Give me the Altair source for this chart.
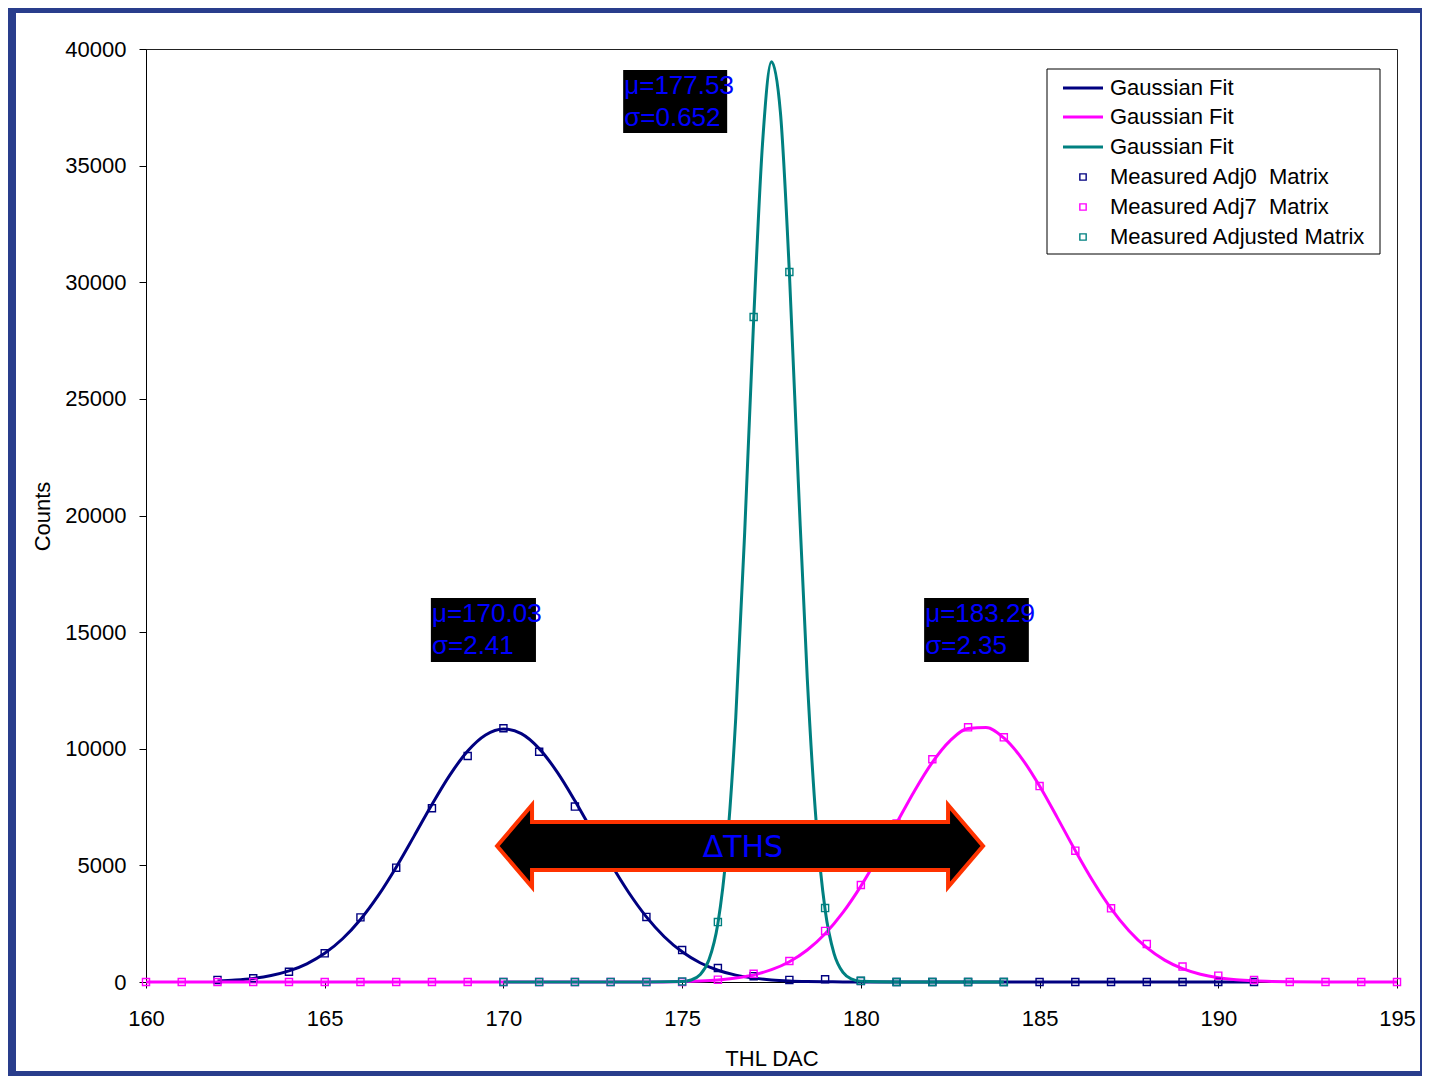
import altair as alt
import pandas as pd

# ---------------- data ----------------
x_ticks = [160, 165, 170, 175, 180, 185, 190, 195]
y_ticks = [0, 5000, 10000, 15000, 20000, 25000, 30000, 35000, 40000]

series_labels = ["Gaussian Fit", "Gaussian Fit", "Gaussian Fit",
                 "Measured Adj0\u00a0 Matrix", "Measured Adj7\u00a0 Matrix", "Measured Adjusted Matrix"]

# measured points (Adj0, navy)
meas0_x = list(range(162, 192))
meas0_y = [90, 160, 440, 1230, 2770, 4900, 7450, 9690, 10880, 9870, 7520, 5100, 2790, 1370,
           600, 250, 90, 115, 40, 0, 0, 0, 0, 0, 0, 0, 0, 0, 0, 0]
# measured points (Adj7, magenta)
meas7_x = list(range(160, 196))
meas7_y = [0, 0, 0, 0, 0, 0, 0, 0, 0, 0, 0, 0, 0, 0, 0, 0,
           100, 350, 900, 2190, 4160, 6800, 9550, 10920, 10490, 8400, 5630, 3160, 1630, 660,
           270, 90, 0, 0, 0, 0]
# measured points (Adjusted, teal)
measA_x = list(range(170, 185))
measA_y = [0, 0, 0, 0, 0, 20, 2570, 28510, 30440, 3170, 50, 0, 0, 0, 0]

# fitted curves
fit0_x = [162, 162.5, 163, 163.5, 164, 164.5, 165, 165.5, 166, 166.5, 167, 167.5, 168, 168.5,
          169, 169.5, 170, 170.5, 171, 171.5, 172, 172.5, 173, 173.5, 174, 174.5, 175, 175.5,
          176, 176.5, 177, 177.5, 178, 178.5, 179, 179.5, 180,
          181, 182, 183, 184, 185, 186, 187, 188, 189, 190, 191]
fit0_y = [42, 82, 154, 276, 474, 780, 1229, 1854, 2681, 3712, 4923, 6254, 7609, 8870,
          9903, 10591, 10850, 10646, 10006, 9009, 7769, 6418, 5077, 3848, 2794, 1942, 1295, 826,
          505, 295, 166, 89, 46, 23, 11, 5, 3,
          0, 0, 0, 0, 0, 0, 0, 0, 0, 0, 0]

fit7_x = [160, 161, 162, 163, 164, 165, 166, 167, 168, 169, 170, 171, 172, 173, 174,
          175, 175.5, 176, 176.5, 177, 177.5, 178, 178.5, 179, 179.5, 180, 180.5, 181, 181.5,
          182, 182.5, 183, 183.5, 184, 184.5, 185, 185.5, 186, 186.5, 187, 187.5, 188, 188.5,
          189, 189.5, 190, 190.5, 191, 191.5, 192, 193, 194, 195]
fit7_y = [0, 0, 0, 0, 0, 0, 0, 0, 0, 0, 0, 0, 0, 0, 0,
          22, 45, 89, 169, 305, 527, 869, 1372, 2070, 2984, 4110, 5412, 6811, 8193,
          9418, 10349, 10867, 10906, 10462, 9590, 8403, 7037, 5632, 4308, 3149, 2201, 1470, 937,
          572, 334, 186, 99, 50, 24, 11, 0, 0, 0]

fitA_x = [170, 171, 172, 173, 174,
          175, 175.25, 175.5, 175.75, 176, 176.25, 176.5, 176.75, 177, 177.25, 177.5,
          177.75, 178, 178.25, 178.5, 178.75, 179, 179.25, 179.5, 179.75, 180,
          181, 182, 183, 184]
fitA_y = [0, 0, 0, 0, 0,
          21, 87, 310, 950, 2510, 5740, 11330, 19290, 28350, 35970, 39450,
          37270, 30420, 21440, 13040, 6850, 3100, 1220, 410, 120, 30,
          0, 0, 0, 0]

# fit-parameter annotations
ann_text = ["\u03bc=170.03", "\u03c3=2.41", "\u03bc=177.53", "\u03c3=0.652", "\u03bc=183.29", "\u03c3=2.35"]
arrow_label = "\u0394THS"

colors = ["#000080", "#FF00FF", "#008080"]

# ---------------- layout ----------------
W, H = 1251, 933
PAD = {"left": 138, "top": 41, "right": 25, "bottom": 94}

x_scale = alt.Scale(domain=[160, 195], nice=False, zero=False)
y_scale = alt.Scale(domain=[0, 40000], nice=False)

x_axis = alt.Axis(values=x_ticks, title="THL DAC", grid=False, tickSize=6, labelPadding=20,
                  labelFlush=False, titleY=76, titleBaseline="middle")
y_axis = alt.Axis(values=y_ticks, format="d", title="Counts", grid=False, tickSize=7,
                  labelPadding=13, labelFlush=False, titleX=-104, titleY=467,
                  titleBaseline="middle", titleAlign="center")

X = lambda f: alt.X(f, scale=x_scale, axis=x_axis)
Y = lambda f: alt.Y(f, scale=y_scale, axis=y_axis)

one = alt.Data(values=[{"k": 1}])

# outer blue frame
frame = alt.Chart(one).mark_rect(fillOpacity=0, stroke="#293d8c", strokeWidth=10).encode(
    x=alt.value(-135), x2=alt.value(1279), y=alt.value(-41), y2=alt.value(1027))


def fit_layer(xs, ys, col):
    df = pd.DataFrame({"x": xs, "y": ys})
    return alt.Chart(df).mark_line(color=col, strokeWidth=3, interpolate="monotone").encode(
        x=X("x:Q"), y=Y("y:Q"))


def meas_layer(xs, ys, col):
    df = pd.DataFrame({"x": xs, "y": ys})
    return alt.Chart(df).mark_point(shape="square", filled=False, size=50, strokeWidth=1.4,
                                    color=col, opacity=1).encode(x=X("x:Q"), y=Y("y:Q"))


lines = [fit_layer(fit0_x, fit0_y, colors[0]),
         fit_layer(fit7_x, fit7_y, colors[1]),
         fit_layer(fitA_x, fitA_y, colors[2])]
points = [meas_layer(meas0_x, meas0_y, colors[0]),
          meas_layer(meas7_x, meas7_y, colors[1]),
          meas_layer(measA_x, measA_y, colors[2])]

# double arrow
arrow_path = ("M-1,0L-0.856,-0.169L-0.856,-0.099L0.856,-0.099L0.856,-0.169L1,0"
              "L0.856,0.169L0.856,0.099L-0.856,0.099L-0.856,0.169Z")
arrow_df = pd.DataFrame({"x": [176.62], "y": [5830], "tx": [176.70], "ty": [5745], "label": [arrow_label]})
arrow = alt.Chart(arrow_df).mark_point(shape=arrow_path, size=486 * 486, filled=True, fill="black",
                                       stroke="#FF3300", strokeWidth=4, opacity=1,
                                       fillOpacity=1, strokeOpacity=1).encode(x=X("x:Q"), y=Y("y:Q"))
arrow_txt = alt.Chart(arrow_df).mark_text(font="DejaVu Sans", fontSize=30, color="#0000FF",
                                          align="center", baseline="middle").encode(
    x=X("tx:Q"), y=Y("ty:Q"), text="label:N")

# annotation boxes
box_df = pd.DataFrame({"x": [167.97, 173.35, 181.77], "x2": [170.91, 176.26, 184.70],
                       "y": [16463, 39100, 16463], "y2": [13719, 36400, 13719]})
boxes = alt.Chart(box_df).mark_rect(color="black").encode(
    x=X("x:Q"), x2="x2:Q", y=Y("y:Q"), y2="y2:Q")
ann_df = pd.DataFrame({"x": [168.0, 168.0, 173.38, 173.38, 181.80, 181.80],
                       "y": [15777, 14405, 38413, 37042, 15777, 14405],
                       "t": ann_text})
ann = alt.Chart(ann_df).mark_text(font="Liberation Sans", fontSize=26, color="#0000FF",
                                  align="left", baseline="middle").encode(
    x=X("x:Q"), y=Y("y:Q"), text="t:N")

# legend (drawn inside the plot, top right)
leg_layers = [alt.Chart(one).mark_rect(fill="white", stroke="black", strokeWidth=1).encode(
    x=alt.value(901), x2=alt.value(1234), y=alt.value(20), y2=alt.value(205))]
row_y = [39, 68, 98, 128, 158, 188]
for i, lab in enumerate(series_labels):
    col = colors[i % 3]
    if i < 3:
        leg_layers.append(alt.Chart(one).mark_rule(color=col, strokeWidth=3).encode(
            x=alt.value(917), x2=alt.value(957), y=alt.value(row_y[i])))
    else:
        leg_layers.append(alt.Chart(one).mark_point(shape="square", filled=False, size=40,
                                                    strokeWidth=1.4, color=col, opacity=1).encode(
            x=alt.value(937), y=alt.value(row_y[i])))
    leg_layers.append(alt.Chart(pd.DataFrame({"t": [lab]})).mark_text(
        font="Liberation Sans", fontSize=22, color="black", align="left", baseline="middle").encode(
        x=alt.value(964), y=alt.value(row_y[i]), text="t:N"))

chart = alt.layer(frame, *lines, *points, arrow, arrow_txt, boxes, ann, *leg_layers).properties(
    width=W, height=H, padding=PAD, autosize=alt.AutoSizeParams(type="none"), background="white"
).configure_axis(
    labelFont="Liberation Sans", titleFont="Liberation Sans", labelFontSize=22, titleFontSize=22,
    titleFontWeight="normal", labelColor="black", titleColor="black", domainColor="black",
    tickColor="black", zindex=1
).configure_view(stroke="#222222", strokeWidth=1)

chart.save("out.html", embed_options={"renderer": "svg", "actions": False})
